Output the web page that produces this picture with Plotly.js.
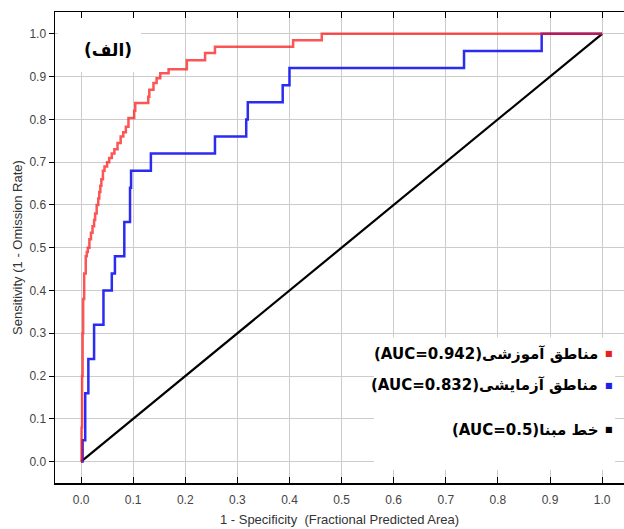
<!DOCTYPE html>
<html>
<head>
<meta charset="utf-8">
<script src="https://cdn.plot.ly/plotly-3.0.1.min.js"></script>
<style>html,body{margin:0;padding:0;background:#fff;}</style>
</head>
<body>
<div id="chart" style="width:624px;height:529px;"></div>
<script>
// Training ROC (red)
const trainFPR = [0, 0.001, 0.002, 0.003, 0.004, 0.006, 0.009, 0.011, 0.013, 0.016, 0.019, 0.022, 0.025, 0.027, 0.030, 0.033, 0.035, 0.037, 0.039, 0.042, 0.045, 0.050, 0.054, 0.059, 0.064, 0.070, 0.076, 0.081, 0.086, 0.091, 0.102, 0.104, 0.129, 0.131, 0.139, 0.145, 0.152, 0.168, 0.203, 0.238, 0.257, 0.407, 0.462, 1.0];
const trainTPR = [0, 0.08, 0.20, 0.30, 0.38, 0.44, 0.48, 0.49, 0.50, 0.52, 0.535, 0.55, 0.565, 0.58, 0.60, 0.615, 0.63, 0.645, 0.66, 0.68, 0.69, 0.70, 0.71, 0.72, 0.73, 0.745, 0.76, 0.77, 0.783, 0.803, 0.82, 0.838, 0.853, 0.869, 0.885, 0.896, 0.908, 0.917, 0.938, 0.955, 0.970, 0.985, 1.0, 1.0];
// Test ROC (blue)
const testFPR = [0, 0.003, 0.008, 0.014, 0.025, 0.043, 0.059, 0.065, 0.083, 0.094, 0.096, 0.134, 0.257, 0.317, 0.320, 0.387, 0.400, 0.735, 0.884, 1.0];
const testTPR = [0, 0.05, 0.16, 0.24, 0.32, 0.40, 0.44, 0.48, 0.56, 0.64, 0.68, 0.72, 0.76, 0.80, 0.84, 0.88, 0.92, 0.96, 1.0, 1.0];
// Baseline
const baseX = [0, 1];
const baseY = [0, 1];

const seriesLabels = ["مناطق آموزشی(AUC=0.942)", "مناطق آزمایشی(AUC=0.832)", "خط مبنا(AUC=0.5)"];
const seriesColors = ["rgb(235,30,30)", "rgb(30,30,235)", "rgb(0,0,0)"];
const panelLabel = "(الف)";
const tickVals = [0, 0.1, 0.2, 0.3, 0.4, 0.5, 0.6, 0.7, 0.8, 0.9, 1.0];
const tickText = ["0.0", "0.1", "0.2", "0.3", "0.4", "0.5", "0.6", "0.7", "0.8", "0.9", "1.0"];
const xTitle = "1 - Specificity  (Fractional Predicted Area)";
const yTitle = "Sensitivity (1 - Omission Rate)";

const RLE = "\u202B", PDF = "\u202C";

const traces = [
  {x: baseX, y: baseY, mode: "lines", line: {color: seriesColors[2], width: 2.2}, showlegend: false, hoverinfo: "skip"},
  {x: testFPR, y: testTPR, mode: "lines", line: {color: "rgba(25,25,240,0.92)", width: 2.5, shape: "hv"}, showlegend: false},
  {x: trainFPR, y: trainTPR, mode: "lines", line: {color: "rgba(250,20,20,0.72)", width: 2.5, shape: "hv"}, showlegend: false}
];

const legendY = [0.252, 0.178, 0.075];
const annotations = [
  {x: 0.052, y: 0.963, xref: "x", yref: "y", text: "<b>" + RLE + panelLabel + PDF + "</b>", showarrow: false,
   font: {family: "DejaVu Sans", size: 17, color: "#000"}}
];
seriesLabels.forEach((lab, i) => {
  annotations.push({x: 0.996, y: legendY[i], xref: "x", yref: "y", xanchor: "right", text: "<b>" + RLE + lab + PDF + "</b>",
    showarrow: false, font: {family: "DejaVu Sans", size: 15, color: "#000"}});
  annotations.push({x: 1.013, y: legendY[i], xref: "x", yref: "y", xanchor: "center", text: "■",
    showarrow: false, font: {family: "DejaVu Sans", size: 8, color: seriesColors[i]}});
});

const layout = {
  width: 624, height: 529,
  margin: {l: 55, r: 0, t: 12, b: 46},
  paper_bgcolor: "#fff", plot_bgcolor: "#fff",
  showlegend: false,
  font: {family: "Liberation Sans, Arial, sans-serif", color: "#333"},
  xaxis: {
    range: [-0.05, 1.042], tickvals: tickVals, ticktext: tickText,
    ticks: "inside", ticklen: 6, tickcolor: "#000", tickwidth: 1,
    showline: true, linecolor: "#000", linewidth: 1.5, mirror: "ticks",
    showgrid: true, gridcolor: "#cccccc", gridwidth: 1, zeroline: false,
    tickfont: {size: 12, color: "#444"}, ticklabelstandoff: 5,
    title: {text: xTitle, font: {size: 13, color: "#333"}, standoff: 9}
  },
  yaxis: {
    range: [-0.05, 1.051], tickvals: tickVals, ticktext: tickText,
    ticks: "outside", ticklen: 5, tickcolor: "#000", tickwidth: 1,
    showline: true, linecolor: "#000", linewidth: 1.5, mirror: true,
    showgrid: true, gridcolor: "#cccccc", gridwidth: 1, zeroline: false,
    tickfont: {size: 12, color: "#444"},
    title: {text: yTitle, font: {size: 13, color: "#333"}, standoff: 4}
  },
  shapes: [
    {type: "rect", xref: "x", yref: "y", x0: 0.562, x1: 1.025, y0: -0.019, y1: 0.29, fillcolor: "#fff", line: {width: 0}, layer: "between"},
    {type: "rect", xref: "x", yref: "y", x0: -0.044, x1: 0.115, y0: 0.911, y1: 1.049, fillcolor: "#fff", line: {width: 0}, layer: "between"}
  ],
  annotations: annotations
};

Plotly.newPlot("chart", traces, layout, {displayModeBar: false, staticPlot: true});
</script>
</body>
</html>
